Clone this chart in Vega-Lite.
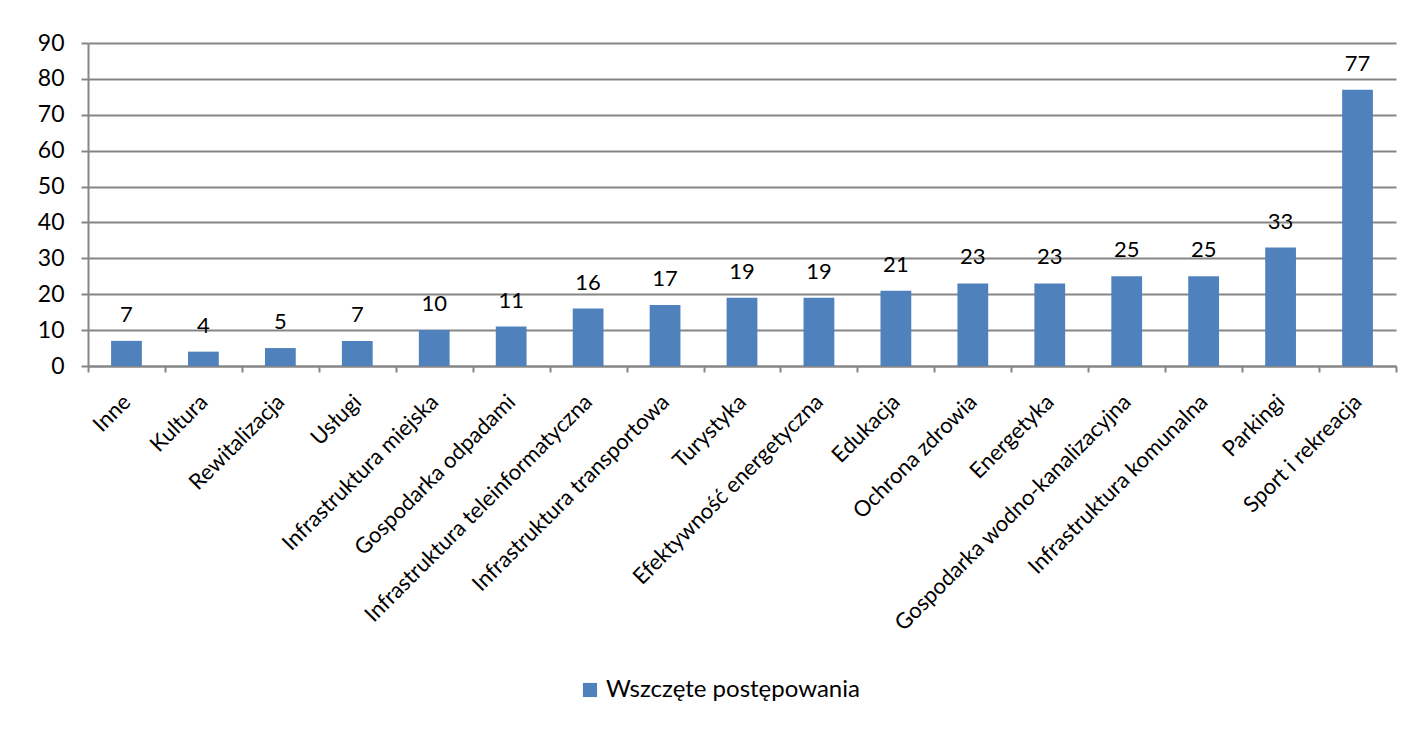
{
  "$schema": "https://vega.github.io/schema/vega-lite/v6.json",
  "autosize": {"type": "none"},
  "padding": {"left": 88, "top": 43, "right": 18, "bottom": 365},
  "width": 1308,
  "height": 323,
  "background": "white",
  "config": {
    "font": "Lato",
    "view": {"stroke": null}
  },
  "data": {
    "values": [
      {"kategoria": "Inne", "wartosc": 7},
      {"kategoria": "Kultura", "wartosc": 4},
      {"kategoria": "Rewitalizacja", "wartosc": 5},
      {"kategoria": "Usługi", "wartosc": 7},
      {"kategoria": "Infrastruktura miejska", "wartosc": 10},
      {"kategoria": "Gospodarka odpadami", "wartosc": 11},
      {"kategoria": "Infrastruktura teleinformatyczna", "wartosc": 16},
      {"kategoria": "Infrastruktura transportowa", "wartosc": 17},
      {"kategoria": "Turystyka", "wartosc": 19},
      {"kategoria": "Efektywność energetyczna", "wartosc": 19},
      {"kategoria": "Edukacja", "wartosc": 21},
      {"kategoria": "Ochrona zdrowia", "wartosc": 23},
      {"kategoria": "Energetyka", "wartosc": 23},
      {"kategoria": "Gospodarka wodno-kanalizacyjna", "wartosc": 25},
      {"kategoria": "Infrastruktura komunalna", "wartosc": 25},
      {"kategoria": "Parkingi", "wartosc": 33},
      {"kategoria": "Sport i rekreacja", "wartosc": 77}
    ]
  },
  "encoding": {
    "x": {
      "field": "kategoria",
      "type": "nominal",
      "sort": null,
      "scale": {"paddingInner": 0, "paddingOuter": 0},
      "axis": {
        "title": null,
        "labelAngle": -45,
        "labelAlign": "right",
        "labelBaseline": "middle",
        "labelFontSize": 22,
        "labelColor": "black",
        "labelPadding": 26,
        "labelOffset": 0,
        "labelLimit": 500,
        "tickBand": "extent",
        "tickSize": 6,
        "tickColor": "#868686",
        "tickWidth": 2,
        "domainColor": "#868686",
        "domainWidth": 2,
        "grid": false
      }
    },
    "y": {
      "field": "wartosc",
      "type": "quantitative",
      "scale": {"domain": [0, 90]},
      "axis": {
        "title": null,
        "values": [0, 10, 20, 30, 40, 50, 60, 70, 80, 90],
        "labelFontSize": 23,
        "labelColor": "black",
        "labelPadding": 17,
        "tickSize": 7,
        "tickColor": "#868686",
        "tickWidth": 2,
        "domainColor": "#868686",
        "domainWidth": 2,
        "grid": true,
        "gridColor": "#868686",
        "gridWidth": 2
      }
    }
  },
  "layer": [
    {
      "mark": {"type": "bar", "width": {"band": 0.4}},
      "encoding": {
        "color": {
          "datum": "Wszczęte postępowania",
          "type": "nominal",
          "scale": {"range": ["#4F81BD"]},
          "legend": {
            "title": null,
            "orient": "none",
            "legendX": 490,
            "legendY": 635,
            "symbolType": "square",
            "symbolSize": 200,
            "symbolStrokeWidth": 0,
            "labelFontSize": 24,
            "labelLimit": 500,
            "labelColor": "black",
            "labelFont": "Lato"
          }
        }
      }
    },
    {
      "mark": {"type": "text", "dy": -26, "fontSize": 22, "color": "black"},
      "encoding": {"text": {"field": "wartosc", "type": "quantitative"}}
    }
  ]
}
